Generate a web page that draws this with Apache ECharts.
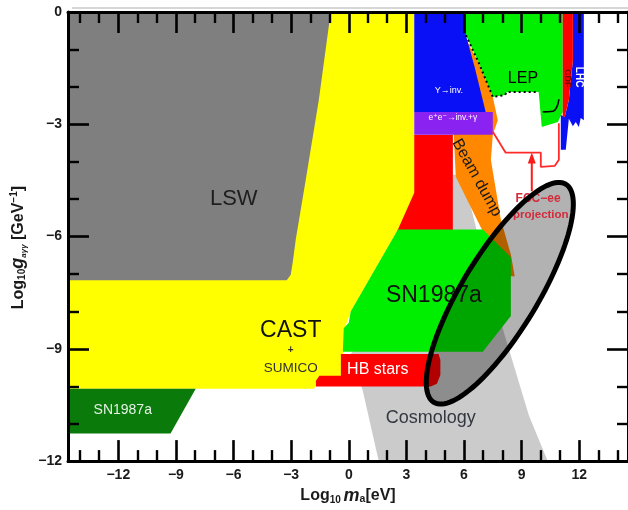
<!DOCTYPE html>
<html>
<head>
<meta charset="utf-8">
<script src="https://cdn.jsdelivr.net/npm/echarts@6/dist/echarts.min.js"></script>
<style>
  html, body { margin: 0; padding: 0; background: #ffffff; }
  #chart { width: 628px; height: 510px; }
</style>
</head>
<body>
<div id="chart"></div>
<script>
// ---- axes: log10(m_a / eV) horizontally, log10(g_aγγ / GeV^-1) vertically ----
const xRange = [-14.62, 14.54];
const yRange = [-12, 0];
const xMajorTicks = [-12, -9, -6, -3, 0, 3, 6, 9, 12];
const xMinorTicks = [-14, -13, -11, -10, -8, -7, -5, -4, -2, -1, 1, 2, 4, 5, 7, 8, 10, 11, 13, 14];
const xTickLabels = [-12, -9, -6, -3, 0, 3, 6, 9, 12];
const yMajorTicks = [0, -3, -6, -9, -12];
const yMinorTicks = [-1, -2, -4, -5, -7, -8, -10, -11];
const yTickLabels = [0, -3, -6, -9, -12];

// ---- excluded regions, boundary vertices as [log10 m_a, log10 g] ----
const cosmologyRegion = [[5.42, -4.35], [5.94, -4.35], [6.78, -6.08], [8.07, -8.55], [9.38, -10.78], [10.36, -12.0], [1.56, -12.0], [0.73, -10.12], [0.1, -9.14], [5.42, -5.86]];
const redBandRegion = [[3.26, -3.28], [5.42, -3.28], [5.42, -5.86], [2.43, -5.86], [2.43, -4.9]];
const castRegion = [[-14.62, 0], [3.41, 0], [3.41, -4.83], [2.56, -5.81], [0.1, -8.0], [-0.24, -8.5], [-0.33, -9.8], [-1.66, -9.95], [-1.82, -10.07], [-14.62, -10.07]];
const lswRegion = [[-14.62, 0], [-0.94, 0], [-1.56, -2.35], [-2.24, -4.48], [-2.76, -6.08], [-2.91, -6.66], [-3.02, -7.02], [-3.23, -7.17], [-14.62, -7.17]];
const snLeftRegion = [[-14.62, -10.07], [-7.97, -10.07], [-9.28, -11.26], [-14.62, -11.26]];
const beamDumpRegion = [[5.99, -0.62], [6.78, -1.37], [7.5, -2.27], [7.76, -2.89], [7.5, -3.28], [7.4, -3.95], [7.92, -5.55], [8.44, -6.48], [8.64, -7.06], [8.28, -7.06], [6.88, -5.76], [5.57, -4.4], [5.47, -3.28], [5.47, -2.67]];
const upsilonRegion = [[3.41, 0], [6.1, 0], [6.1, -0.62], [6.56, -1.48], [7.13, -2.67], [3.41, -2.67]];
const monoPhotonRegion = [[3.41, -2.67], [7.5, -2.67], [7.5, -3.28], [3.41, -3.28]];
const lepRegion = [[6.1, 0], [11.14, 0], [11.14, -2.67], [10.89, -2.94], [10.05, -3.07], [9.89, -2.14], [8.23, -2.14], [8.13, -2.22], [7.5, -2.27], [6.78, -1.37], [6.1, -0.62]];
const lhcRegion = [[11.67, 0], [12.24, 0], [12.24, -2.89], [12.08, -2.83], [11.98, -3.07], [11.82, -2.94], [11.67, -3.05], [11.46, -2.85], [11.3, -3.68], [11.04, -3.68], [11.04, -2.75], [11.25, -2.8], [11.46, -2.35], [11.67, -1.29]];
const cdfRegion = [[11.14, 0], [11.67, 0], [11.67, -1.29], [11.46, -2.35], [11.25, -2.8], [11.14, -2.8]];
const hbRegion = [[-0.41, -9.14], [4.68, -9.14], [4.77, -9.3], [4.77, -9.7], [4.59, -9.93], [4.27, -10.01], [-1.71, -10.01], [-1.71, -9.85], [-1.53, -9.72], [-0.41, -9.72]];
const snRegion = [[2.56, -5.81], [6.98, -5.81], [8.44, -6.55], [8.44, -8.12], [6.98, -9.08], [-0.31, -9.08], [-0.26, -8.45], [0.0, -8.3], [0.1, -8.0]];

// ---- lines ----
const lepEdge = [[6.1, -0.62], [6.78, -1.37], [7.5, -2.27], [8.13, -2.22], [8.23, -2.14], [9.89, -2.14]];
const lepHook = [[10.1, -2.67], [10.63, -2.65], [10.83, -2.54], [10.94, -2.33]];
const fccOutline = [[7.5, -3.2], [8.17, -3.76], [10.0, -3.76], [10.0, -4.14], [10.73, -4.11], [10.94, -3.95], [10.94, -2.97]];
const fccArrow = [[9.53, -4.79], [9.53, -3.9]];
// FCC-ee reach: ellipse given by the two ends of its long axis and its axis ratio
const fccMajorAxis = [[4.43, -10.43], [11.3, -4.6]];
const fccAxisRatio = 0.298;

// ---- region names ----
const labelTexts = ['LSW', 'CAST', '+', 'SUMICO', 'SN1987a', 'SN1987a', 'HB stars', 'Cosmology', 'LEP', 'Beam dump', 'Υ→inv.', 'e⁺e⁻→inv.+γ', 'CDF', 'LHC', 'FCC−ee', 'projection'];
const labelX = [-5.99, -3.02, -3.02, -3.02, 4.43, -11.77, 1.51, 4.27, 9.07, 6.67, 5.21, 5.42, 11.41, 11.98, 9.86, 10.0];
const labelY = [-4.99, -8.52, -9.03, -9.51, -7.57, -10.65, -9.56, -10.84, -1.77, -4.43, -2.09, -2.81, -1.77, -1.74, -4.99, -5.41];

const FONT = '"Liberation Sans", Arial, "DejaVu Sans", sans-serif';
const labelStyles = [
  { size: 22, color: '#1e1e1e' },
  { size: 23, color: '#111111' },
  { size: 10, color: '#333333', weight: 'bold' },
  { size: 13.5, color: '#333333' },
  { size: 23, color: '#111111' },
  { size: 14, color: '#e6f2e6' },
  { size: 16, color: '#ffffff' },
  { size: 18, color: '#333840' },
  { size: 16, color: '#000000' },
  { size: 16, color: '#1a1a1a', rotate: -61 },
  { size: 9, color: '#ffffff' },
  { size: 8.5, color: '#ffffff' },
  { size: 9, color: '#800000', weight: 'bold', rotate: -90 },
  { size: 10, color: '#ffffff', weight: 'bold', rotate: -90 },
  { size: 12, color: '#d42a3a', weight: 'bold' },
  { size: 11.5, color: '#d42a3a', weight: 'bold' }
];

const minus = v => (v < 0 ? '−' + Math.abs(v) : String(v));

function xAxisCfg(position, ticks, len, width, line, labels, extra) {
  return Object.assign({
    type: 'value', position, min: xRange[0], max: xRange[1], z: 10,
    axisLine: { show: line, onZero: false, lineStyle: { color: '#000', width: 3 } },
    axisTick: { show: true, inside: true, length: len, customValues: ticks, lineStyle: { color: '#000', width } },
    axisLabel: labels ? {
      show: true, customValues: labels, formatter: minus, margin: 7,
      color: '#1a1a1a', fontSize: 14, fontWeight: 'bold', fontFamily: FONT
    } : { show: false },
    splitLine: { show: false }
  }, extra || {});
}
function yAxisCfg(position, ticks, len, width, line, labels, extra) {
  return Object.assign({
    type: 'value', position, min: yRange[0], max: yRange[1], z: 10,
    axisLine: { show: line, onZero: false, lineStyle: { color: '#000', width: 3 } },
    axisTick: { show: true, inside: true, length: len, customValues: ticks, lineStyle: { color: '#000', width } },
    axisLabel: labels ? {
      show: true, customValues: labels, formatter: minus, margin: 6,
      color: '#1a1a1a', fontSize: 14, fontWeight: 'bold', fontFamily: FONT
    } : { show: false },
    splitLine: { show: false }
  }, extra || {});
}

function regionSeries(pts, color) {
  return {
    type: 'custom', coordinateSystem: 'cartesian2d', silent: true, clip: true,
    data: pts,
    renderItem: (params, api) => {
      if (params.dataIndex !== 0) return { type: 'group', children: [] };
      return { type: 'polygon', shape: { points: pts.map(p => api.coord(p)) }, style: { fill: color } };
    }
  };
}
function lineSeries(pts, color, width, type, smooth) {
  return {
    type: 'line', data: pts, silent: true, symbol: 'none', smooth: smooth || false,
    lineStyle: { color, width, type: type || 'solid' }, z: 3
  };
}
function ellipsePoints(api) {
  const a = api.coord(fccMajorAxis[0]);
  const b = api.coord(fccMajorAxis[1]);
  const cx = (a[0] + b[0]) / 2, cy = (a[1] + b[1]) / 2;
  const ra = Math.hypot(b[0] - a[0], b[1] - a[1]) / 2;
  const rb = ra * fccAxisRatio;
  const ang = Math.atan2(b[1] - a[1], b[0] - a[0]);
  const out = [];
  for (let k = 0; k < 120; k++) {
    const t = (k / 120) * Math.PI * 2;
    const u = ra * Math.cos(t), v = rb * Math.sin(t);
    out.push([cx + u * Math.cos(ang) - v * Math.sin(ang), cy + u * Math.sin(ang) + v * Math.cos(ang)]);
  }
  return out;
}

const nameRich = {
  b: { fontSize: 16, fontWeight: 'bold', fontFamily: FONT, color: '#1a1a1a' },
  s: { fontSize: 10, fontWeight: 'bold', fontFamily: FONT, color: '#1a1a1a', verticalAlign: 'bottom', padding: [7, 0, 0, 0] },
  i: { fontSize: 18, fontWeight: 'bold', fontStyle: 'italic', fontFamily: FONT, color: '#1a1a1a' },
  a: { fontSize: 10.5, fontWeight: 'bold', fontFamily: FONT, color: '#1a1a1a', verticalAlign: 'bottom', padding: [7, 0, 0, 0] },
  g: { fontSize: 8, fontWeight: 'bold', fontStyle: 'italic', fontFamily: FONT, color: '#1a1a1a', verticalAlign: 'bottom', padding: [7, 0, 0, 0] },
  p: { fontSize: 10, fontWeight: 'bold', fontFamily: FONT, color: '#1a1a1a', verticalAlign: 'top', padding: [0, 0, 7, 0] }
};

const chart = echarts.init(document.getElementById('chart'), null, { renderer: 'canvas' });

const option = {
  animation: false,
  backgroundColor: '#ffffff',
  // thin grey frame edge above the plot
  graphic: [{
    type: 'line', silent: true, z: -1,
    shape: { x1: 72, y1: 8, x2: 628, y2: 8 },
    style: { stroke: '#c8c8c8', lineWidth: 1.5 }
  }],
  grid: { left: 68, top: 12, width: 568, height: 451, containLabel: false },
  xAxis: [
    xAxisCfg('bottom', xMajorTicks, 21, 2.6, true, xTickLabels, {
      name: '{b|Log}{s|10 }{i|m}{a|a}{b|[eV]}',
      nameLocation: 'middle', nameGap: 21,
      nameTextStyle: { rich: nameRich }
    }),
    xAxisCfg('bottom', xMinorTicks, 11, 2.4, false, null),
    xAxisCfg('top', xMajorTicks, 21, 2.6, true, null),
    xAxisCfg('top', xMinorTicks, 11, 2.4, false, null)
  ],
  yAxis: [
    yAxisCfg('left', yMajorTicks, 21, 2.6, true, yTickLabels, {
      name: '{b|Log}{s|10}{i|g}{g|aγγ}{b| [GeV}{p|−1}{b|]}',
      nameLocation: 'middle', nameGap: 37, nameRotate: 90,
      nameTextStyle: { rich: nameRich, padding: [0, 22, 0, 0] }
    }),
    yAxisCfg('left', yMinorTicks, 11, 2.4, false, null),
    yAxisCfg('right', yMajorTicks, 21, 2.6, true, null),
    yAxisCfg('right', yMinorTicks, 11, 2.4, false, null)
  ],
  series: [
    regionSeries(cosmologyRegion, '#cbcbcb'),
    regionSeries(redBandRegion, '#ff0000'),
    regionSeries(castRegion, '#ffff00'),
    regionSeries(lswRegion, '#7f7f7f'),
    regionSeries(snLeftRegion, '#0a7a0a'),
    regionSeries(beamDumpRegion, '#ff8800'),
    regionSeries(upsilonRegion, '#0a10f5'),
    regionSeries(monoPhotonRegion, '#8a22f2'),
    regionSeries(lepRegion, '#00ee00'),
    regionSeries(lhcRegion, '#0a10f5'),
    regionSeries(cdfRegion, '#ff0000'),
    regionSeries(hbRegion, '#ff0000'),
    regionSeries(snRegion, '#00ee00'),
    lineSeries(lepEdge, '#000000', 2, [2, 3]),
    lineSeries(lepHook, '#000000', 1.6, 'solid', true),
    lineSeries(fccOutline, '#ff2a2a', 1.8),
    {
      type: 'line', silent: true, z: 3,
      data: [
        { value: fccArrow[0], symbol: 'none' },
        { value: fccArrow[1], symbol: 'triangle', symbolSize: [8, 11] }
      ],
      showSymbol: true, symbol: 'none',
      lineStyle: { color: '#ff1a1a', width: 2 },
      itemStyle: { color: '#ff1a1a' }
    },
    // dark veil of the FCC-ee projection
    {
      type: 'custom', coordinateSystem: 'cartesian2d', silent: true, z: 4,
      data: fccMajorAxis,
      renderItem: (params, api) => {
        if (params.dataIndex !== 0) return { type: 'group', children: [] };
        return { type: 'polygon', shape: { points: ellipsePoints(api) }, style: { fill: 'rgba(0,0,0,0.3)' } };
      }
    },
    // region names
    {
      type: 'custom', coordinateSystem: 'cartesian2d', silent: true, z: 5,
      data: labelX.map((x, i) => [x, labelY[i], i]),
      renderItem: (params, api) => {
        const i = api.value(2);
        const st = labelStyles[i];
        const p = api.coord([api.value(0), api.value(1)]);
        return {
          type: 'text', x: p[0], y: p[1],
          rotation: (st.rotate || 0) * Math.PI / 180,
          style: {
            text: labelTexts[i], fill: st.color, align: 'center', verticalAlign: 'middle',
            fontSize: st.size, fontWeight: st.weight || 'normal', fontFamily: FONT
          }
        };
      }
    },
    // outline of the FCC-ee projection
    {
      type: 'custom', coordinateSystem: 'cartesian2d', silent: true, z: 6,
      data: fccMajorAxis,
      renderItem: (params, api) => {
        if (params.dataIndex !== 0) return { type: 'group', children: [] };
        return { type: 'polygon', shape: { points: ellipsePoints(api) }, style: { fill: 'none', stroke: '#000000', lineWidth: 5 } };
      }
    }
  ]
};
chart.setOption(option);
</script>
</body>
</html>
